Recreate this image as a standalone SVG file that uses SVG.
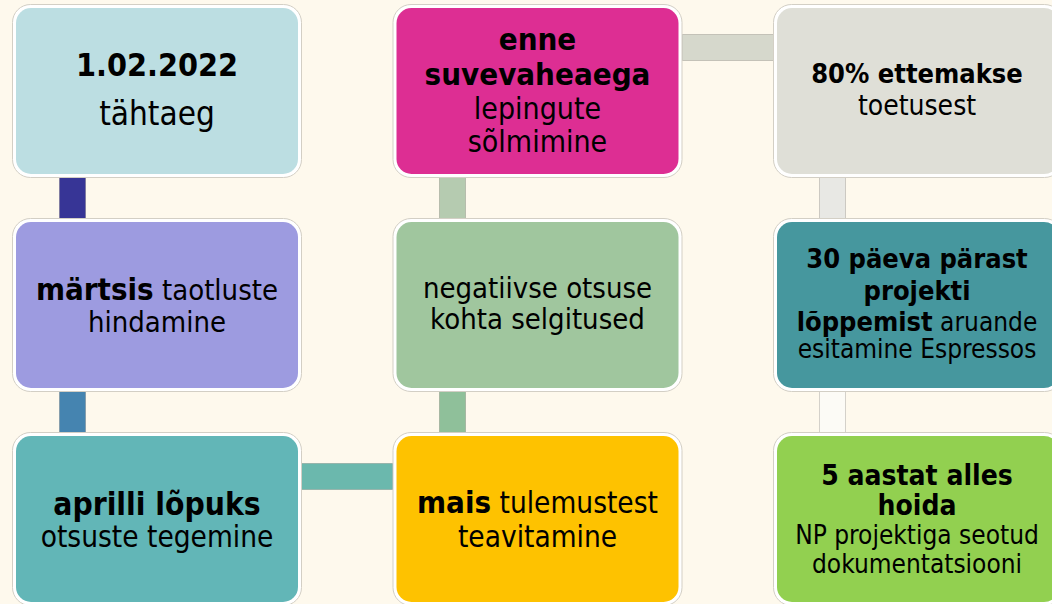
<svg xmlns="http://www.w3.org/2000/svg" width="1052" height="604" viewBox="0 0 1052 604">
<style>
.bg{fill:#fef9ed}
.frame{fill:#ffffff;stroke:#d3cfc5;stroke-width:1}
.t{font-family:"DejaVu Sans Condensed","DejaVu Sans",sans-serif;fill:#000;text-anchor:middle}
.b{font-weight:bold}
.con{stroke:#000;stroke-opacity:0.16;stroke-width:1}
</style>
<rect class="bg" x="0" y="0" width="1052" height="604"/>
<g id="connectors">
<rect class="con" x="59.5" y="177" width="26" height="42" fill="#373596"/>
<rect class="con" x="59.5" y="391" width="26" height="42" fill="#4584b0"/>
<rect class="con" x="301" y="463.5" width="92" height="26" fill="#6bb8ad"/>
<rect class="con" x="439.5" y="391" width="26" height="42" fill="#8fc09a"/>
<rect class="con" x="439.5" y="177" width="26" height="42" fill="#b5cbb0"/>
<rect class="con" x="682" y="34.5" width="92" height="26" fill="#d6d8cc"/>
<rect class="con" x="819.5" y="177" width="26" height="42" fill="#e8e8e4"/>
<rect class="con" x="819.5" y="391" width="26" height="42" fill="#fcfbf6"/>
</g>
<g id="n1">
<rect class="frame" x="12.5" y="4.5" width="289" height="173" rx="18"/>
<rect x="16" y="8" width="282" height="166" rx="15" fill="#bcdee2"/>
<text class="t b" x="157" y="76" font-size="32">1.02.2022</text>
<text class="t" x="157" y="125" font-size="33">tähtaeg</text>
</g>
<g id="n2">
<rect class="frame" x="12.5" y="218.5" width="289" height="173" rx="18"/>
<rect x="16" y="222" width="282" height="166" rx="15" fill="#9d9be0"/>
<text class="t" x="157" y="300" font-size="29"><tspan class="b" font-size="31">märtsis</tspan> taotluste</text>
<text class="t" x="157" y="332" font-size="29">hindamine</text>
</g>
<g id="n3">
<rect class="frame" x="12.5" y="432.5" width="289" height="173" rx="18"/>
<rect x="16" y="436" width="282" height="166" rx="15" fill="#62b6b7"/>
<text class="t b" x="157" y="515" font-size="31.5">aprilli lõpuks</text>
<text class="t" x="157" y="547" font-size="29.5">otsuste tegemine</text>
</g>
<g id="n4">
<rect class="frame" x="393" y="432.5" width="289" height="173" rx="18"/>
<rect x="396.5" y="436" width="282" height="166" rx="15" fill="#fec200"/>
<text class="t" x="537.5" y="513" font-size="29.5"><tspan class="b" font-size="31">mais</tspan> tulemustest</text>
<text class="t" x="537.5" y="547" font-size="29.5">teavitamine</text>
</g>
<g id="n5">
<rect class="frame" x="393" y="218.5" width="289" height="173" rx="18"/>
<rect x="396.5" y="222" width="282" height="166" rx="15" fill="#a0c69e"/>
<text class="t" x="537.5" y="298" font-size="29">negatiivse otsuse</text>
<text class="t" x="537.5" y="329" font-size="29">kohta selgitused</text>
</g>
<g id="n6">
<rect class="frame" x="393" y="4.5" width="289" height="173" rx="18"/>
<rect x="396.5" y="8" width="282" height="166" rx="15" fill="#dd2e93"/>
<text class="t b" x="537.5" y="50" font-size="31">enne</text>
<text class="t b" x="537.5" y="85" font-size="31">suvevaheaega</text>
<text class="t" x="537.5" y="119" font-size="30">lepingute</text>
<text class="t" x="537.5" y="152" font-size="30">sõlmimine</text>
</g>
<g id="n7">
<rect class="frame" x="773.5" y="4.5" width="289" height="173" rx="18"/>
<rect x="777" y="8" width="282" height="166" rx="15" fill="#dfdfd7"/>
<text class="t b" x="917" y="83" font-size="27">80% ettemakse</text>
<text class="t" x="917" y="115" font-size="28">toetusest</text>
</g>
<g id="n8">
<rect class="frame" x="773.5" y="218.5" width="289" height="173" rx="18"/>
<rect x="777" y="222" width="282" height="166" rx="15" fill="#46979e"/>
<text class="t b" x="917" y="268" font-size="27">30 päeva pärast</text>
<text class="t b" x="917" y="300" font-size="27">projekti</text>
<text class="t" x="917" y="331" font-size="26"><tspan class="b" font-size="27">lõppemist</tspan> aruande</text>
<text class="t" x="917" y="358" font-size="26">esitamine Espressos</text>
</g>
<g id="n9">
<rect class="frame" x="773.5" y="432.5" width="289" height="173" rx="18"/>
<rect x="777" y="436" width="282" height="166" rx="15" fill="#92d050"/>
<text class="t b" x="917" y="485" font-size="28">5 aastat alles</text>
<text class="t b" x="917" y="515" font-size="28">hoida</text>
<text class="t" x="917" y="544" font-size="26">NP projektiga seotud</text>
<text class="t" x="917" y="573" font-size="26">dokumentatsiooni</text>
</g>
</svg>
